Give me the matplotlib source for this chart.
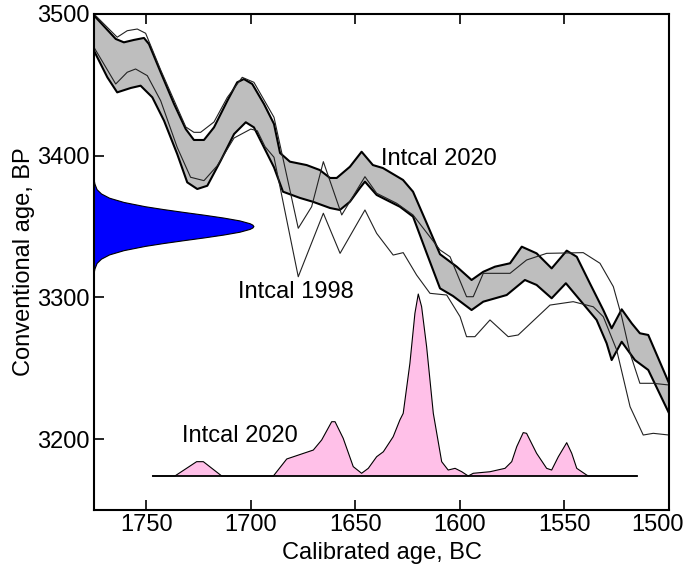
import matplotlib
matplotlib.use("Agg")
import matplotlib.pyplot as plt
import matplotlib.transforms as mtransforms
import numpy as np

plt.rcParams['font.family'] = ['Liberation Sans', 'DejaVu Sans']

# Intcal 2020 band, upper and lower edge (calibrated year BC, age BP)
u20_year = [1775, 1764.6, 1760.7, 1755.9, 1751.1, 1748.7, 1743.1, 1736.7, 1731.1, 1727.2,
            1722.4, 1717.6, 1711.2, 1706.5, 1703.3, 1699.3, 1693.7, 1688.9, 1686.0, 1681.3,
            1673.3, 1667.0, 1662.1, 1658.9, 1652.6, 1647.0, 1641.6, 1636.8, 1627.2, 1622.4,
            1615.9, 1609.5, 1601.5, 1594.4, 1588.8, 1583.2, 1576.0, 1570.4, 1563.3, 1556.1,
            1548.9, 1544.1, 1537.8, 1531.4, 1527.4, 1522.6, 1517.8, 1513.9, 1509.9, 1500]
u20_bp = [3499, 3482.4, 3480.0, 3481.7, 3483.1, 3478.8, 3458.9, 3436.5, 3418.8, 3411.1,
          3411.1, 3420.0, 3438.8, 3451.8, 3454.1, 3450.6, 3436.5, 3422.4, 3401.9, 3395.8,
          3393.4, 3389.9, 3384.3, 3384.3, 3392.2, 3402.8, 3393.4, 3391.3, 3382.9, 3374.6,
          3352.5, 3330.5, 3321.7, 3312.3, 3318.1, 3321.7, 3324.1, 3335.8, 3331.1, 3320.5,
          3333.0, 3328.7, 3309.9, 3291.1, 3278.2, 3291.6, 3281.7, 3274.7, 3273.5, 3239.6]
l20_year = [1775, 1768.6, 1763.9, 1757.4, 1752.7, 1747.1, 1741.5, 1735.2, 1730.4, 1725.6,
            1720.8, 1714.4, 1708.0, 1702.4, 1698.5, 1692.1, 1688.9, 1684.6, 1676.5, 1670.3,
            1662.1, 1657.4, 1652.6, 1647.8, 1645.4, 1639.8, 1635.0, 1628.7, 1622.4, 1615.9,
            1609.5, 1603.3, 1594.4, 1588.8, 1577.6, 1568.9, 1563.3, 1556.1, 1549.3, 1542.6,
            1534.6, 1529.8, 1527.4, 1522.6, 1516.3, 1509.9, 1500]
l20_bp = [3474.1, 3455.3, 3444.7, 3447.8, 3449.4, 3441.2, 3424.7, 3401.2, 3381.2, 3376.5,
          3378.8, 3396.5, 3415.3, 3423.6, 3420.0, 3401.2, 3391.8, 3374.6, 3370.2, 3367.5,
          3363.1, 3361.7, 3367.5, 3377.2, 3381.7, 3372.3, 3368.7, 3364.0, 3357.0, 3331.3,
          3306.4, 3301.0, 3291.1, 3297.0, 3301.7, 3312.3, 3308.8, 3299.4, 3310.0, 3298.2,
          3284.1, 3267.6, 3255.8, 3268.7, 3255.8, 3248.8, 3218.4]

# Intcal 1998, upper and lower line
u98_year = [1775, 1763.9, 1759.1, 1754.3, 1750.3, 1743.1, 1731.1, 1727.2, 1724.0, 1717.6,
            1711.2, 1704.1, 1698.5, 1688.9, 1677.3, 1670.9, 1665.3, 1656.5, 1645.4, 1639.8,
            1630.2, 1622.4, 1609.5, 1604.7, 1596.8, 1593.6, 1588.8, 1576.0, 1568.1, 1558.5,
            1541.0, 1533.0, 1526.6, 1522.6, 1518.6, 1513.9, 1507.6, 1500]
u98_bp = [3500, 3483.6, 3488.2, 3489.4, 3486.4, 3460.5, 3420.3, 3416.5, 3416.5, 3423.8,
          3441.2, 3455.3, 3451.8, 3427.1, 3348.8, 3364.0, 3395.8, 3358.2, 3385.2, 3373.5,
          3366.4, 3358.2, 3333.5, 3328.7, 3300.5, 3300.5, 3317.0, 3317.0, 3326.4, 3331.1,
          3331.6, 3324.1, 3307.6, 3286.4, 3260.6, 3239.4, 3239.4, 3238.2]
l98_year = [1775, 1764.6, 1759.1, 1755.1, 1749.5, 1743.1, 1735.2, 1728.8, 1722.4, 1716.0,
            1708.0, 1700.0, 1696.9, 1693.2, 1688.9, 1677.3, 1665.3, 1657.3, 1645.4, 1639.8,
            1631.9, 1627.1, 1620.7, 1614.3, 1606.3, 1599.9, 1596.8, 1592.8, 1585.6, 1576.9,
            1572.1, 1556.9, 1545.8, 1536.2, 1531.4, 1525.0, 1518.6, 1512.3, 1507.5, 1500]
l98_bp = [3476.5, 3450.6, 3458.9, 3461.2, 3456.5, 3438.8, 3405.9, 3384.8, 3382.4, 3393.0,
          3412.5, 3418.8, 3417.6, 3406.4, 3398.9, 3314.6, 3359.4, 3331.1, 3361.7, 3345.2,
          3329.9, 3331.6, 3315.8, 3302.9, 3301.7, 3286.4, 3272.3, 3272.3, 3284.1, 3272.3,
          3273.5, 3294.6, 3297.0, 3293.4, 3286.4, 3262.9, 3222.9, 3202.9, 3204.1, 3202.9]

# measured date, 3350 BP: age and drawn width in years
blue_bp = [3318, 3320, 3324, 3327, 3330, 3333, 3336, 3338, 3340, 3342, 3344, 3346, 3348, 3349,
           3350, 3351, 3352, 3354, 3356, 3358, 3360, 3362, 3364, 3367, 3370, 3373, 3376, 3380, 3382]
blue_w = [0.2, 0.45, 1.5, 3.6, 7.5, 14.4, 24.6, 33.3, 42.9, 52.9, 62.1, 69.8, 74.7, 76.0,
          76.5, 76.0, 74.7, 69.8, 62.1, 52.9, 42.9, 33.3, 24.6, 14.4, 7.5, 3.6, 1.5, 0.45, 0.2]

# calibrated probability with Intcal 2020 (height in BP units above baseline)
pink_year = [1747.0, 1736.3, 1725.9, 1722.7, 1713.9, 1689.2, 1682.8, 1670.1, 1666.1, 1661.3,
             1659.7, 1655.8, 1651.0, 1647.0, 1643.8, 1639.8, 1636.6, 1631.9, 1628.7, 1627.1,
             1623.9, 1621.5, 1619.9, 1618.3, 1615.9, 1612.7, 1608.7, 1605.6, 1602.3, 1599.1,
             1596.0, 1593.6, 1585.6, 1578.4, 1575.2, 1572.8, 1569.7, 1568.1, 1563.3, 1558.5,
             1556.1, 1552.9, 1548.9, 1546.5, 1544.1, 1539.4, 1538.6, 1515.4]
pink_h = [0, 0, 10.1, 10.1, 0, 0, 12.0, 18.3, 25.4, 38.3,
          38.3, 26.6, 6.6, 1.9, 5.4, 13.6, 17.1, 27.7, 39.5, 44.2,
          79.5, 114.8, 128.4, 119.5, 91.2, 44.2, 10.1, 4.2, 5.4, 3.0,
          0, 1.9, 3.0, 5.4, 10.1, 20.7, 30.6, 30.1, 16.0, 5.4,
          4.2, 13.6, 23.5, 16.0, 5.4, 0.7, 0, 0]
pink_base = 3174

fig = plt.figure(figsize=(6.89, 5.76), dpi=100)
ax = fig.add_axes([0.1364, 0.1146, 0.8345, 0.8611])

# band
ax.fill(u20_year + l20_year[::-1], u20_bp + l20_bp[::-1], color='#bebebe', lw=0)
ax.plot(u20_year, u20_bp, color='black', lw=1.5)
ax.plot(l20_year, l20_bp, color='black', lw=1.5)

ax.plot(u98_year, u98_bp, color='#222222', lw=0.8)
ax.plot(l98_year, l98_bp, color='#222222', lw=0.8)

# blue date
bx = 1775 - np.array(blue_w)
ax.fill_betweenx(blue_bp, 1775, bx, facecolor='#0000ff', edgecolor='none')
ax.plot(bx, blue_bp, color='black', lw=0.8)

# pink probability
py = pink_base + np.array(pink_h)
ax.fill_between(pink_year, pink_base, py, facecolor='#ffc0e8', edgecolor='none')
ax.plot(pink_year, py, color='black', lw=0.8)
ax.plot([pink_year[0], pink_year[-1]], [pink_base, pink_base], color='black', lw=1.3)

ax.text(1637.9, 3393.4, 'Intcal 2020', fontsize=17, ha='left', va='baseline')
ax.text(1706.0, 3299.6, 'Intcal 1998', fontsize=17, ha='left', va='baseline')
ax.text(1733.1, 3198.2, 'Intcal 2020', fontsize=17, ha='left', va='baseline')

ax.set_xlim(1775, 1500)
ax.set_ylim(3150, 3500)
ax.set_xticks([1750, 1700, 1650, 1600, 1550, 1500])
ax.set_yticks([3200, 3300, 3400, 3500])
ax.tick_params(direction='in', length=7.5, width=1.2, labelsize=17, pad=3,
               top=True, right=False)
for s in ax.spines.values():
    s.set_linewidth(1.5)

# last x label sits a little left so it stays inside the figure
lbl = ax.get_xticklabels()[-1]
lbl.set_transform(lbl.get_transform() +
                  mtransforms.ScaledTranslation(-8 / 72, 0, fig.dpi_scale_trans))

ax.set_xlabel('Calibrated age, BC', fontsize=17, labelpad=4)
ax.set_ylabel('Conventional age, BP', fontsize=17, labelpad=2)

fig.savefig('out.png', dpi=100)
